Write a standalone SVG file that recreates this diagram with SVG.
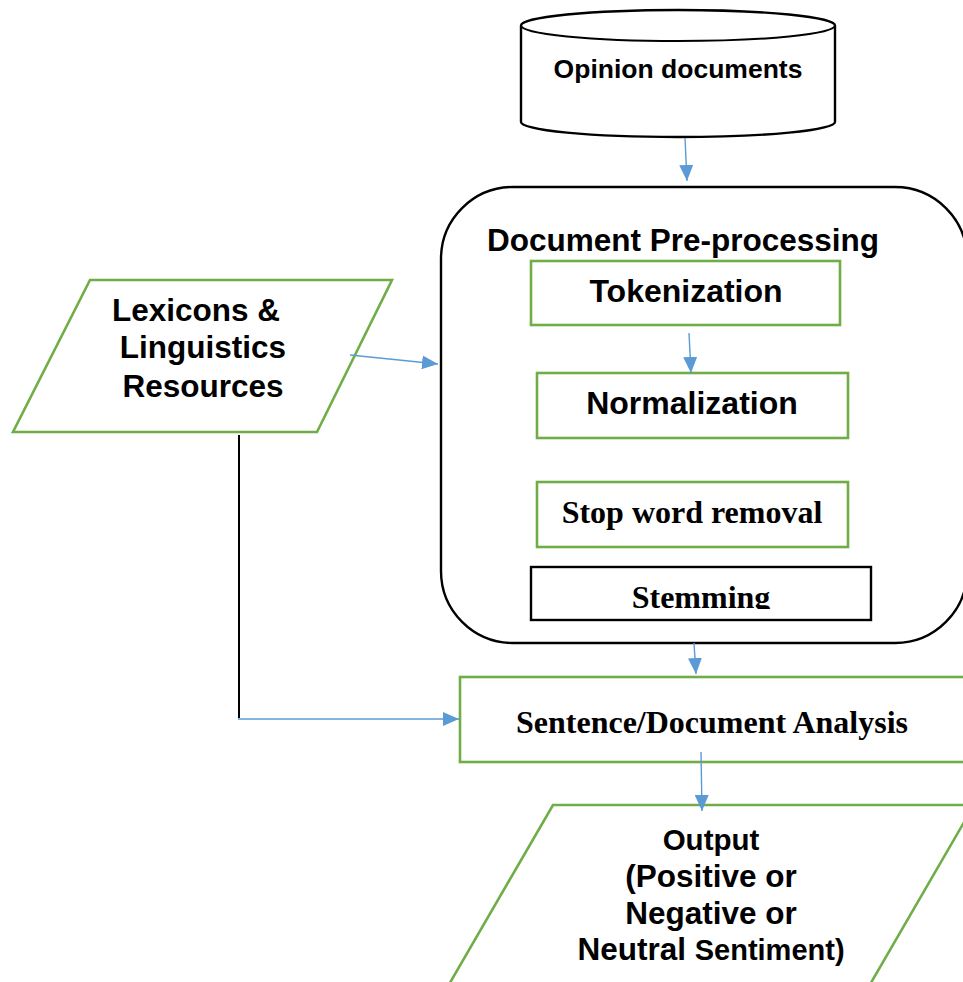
<svg xmlns="http://www.w3.org/2000/svg" width="963" height="982" viewBox="0 0 963 982">
<style>
.sans{font-family:"Liberation Sans",Arial,sans-serif;font-weight:bold;fill:#000}
.serif{font-family:"Liberation Serif","Times New Roman",serif;font-weight:bold;fill:#000}
.green{fill:#fff;stroke:#70AD47;stroke-width:2.6}
.black{fill:#fff;stroke:#000;stroke-width:2.4}
.conn{fill:none;stroke:#5B9BD5;stroke-width:1.4}
</style>
<defs>
<marker id="arr" viewBox="0 0 16 14" refX="16" refY="7" markerWidth="16" markerHeight="14" markerUnits="userSpaceOnUse" orient="auto">
<path d="M0,0 L16,7 L0,14 Z" fill="#5B9BD5"/>
</marker>
<clipPath id="stemclip"><rect x="531" y="567" width="340" height="42"/></clipPath>
</defs>
<rect width="963" height="982" fill="#fff"/>

<g id="opinion-documents">
<path class="black" stroke-width="2" d="M521,25.5 A157,15.5 0 0 1 835,25.5 L835,122 A157,15 0 0 1 521,122 Z"/>
<path fill="none" stroke="#000" stroke-width="2" d="M521,25.5 A157,15.5 0 0 0 835,25.5"/>
<text class="sans" x="678" y="78" font-size="26.5" text-anchor="middle">Opinion documents</text>
</g>

<g id="document-preprocessing">
<rect class="black" x="441" y="187" width="526" height="456" rx="72" ry="72" stroke-width="2.6"/>
<text class="sans" x="683" y="251" font-size="31.5" text-anchor="middle">Document Pre-processing</text>
</g>

<g id="tokenization">
<rect class="green" x="531" y="261" width="309" height="64"/>
<text class="sans" x="686" y="302" font-size="32" text-anchor="middle">Tokenization</text>
</g>

<g id="normalization">
<rect class="green" x="537" y="373" width="311" height="65"/>
<text class="sans" x="692" y="414" font-size="32" text-anchor="middle">Normalization</text>
</g>

<g id="stop-word-removal">
<rect class="green" x="537" y="482" width="311" height="65"/>
<text class="serif" x="692" y="523" font-size="32" text-anchor="middle">Stop word removal</text>
</g>

<g id="stemming">
<rect class="black" x="531" y="567" width="340" height="53" stroke-width="2"/>
<text class="serif" x="701" y="608" font-size="32" text-anchor="middle" clip-path="url(#stemclip)">Stemming</text>
</g>

<g id="lexicons">
<polygon class="green" points="90,280 392,280 317,432 13,432"/>
<text class="sans" x="196" y="321" font-size="31.5" text-anchor="middle">Lexicons &amp;</text>
<text class="sans" x="203" y="358" font-size="31.5" text-anchor="middle">Linguistics</text>
<text class="sans" x="203" y="397" font-size="31.5" text-anchor="middle">Resources</text>
</g>

<g id="sentence-analysis">
<rect class="green" x="460" y="677" width="507" height="85"/>
<text class="serif" x="712" y="733" font-size="32" text-anchor="middle">Sentence/Document Analysis</text>
</g>

<g id="output">
<polygon class="green" points="553,805 974,805 861,1000 440,1000"/>
<text class="sans" x="711" y="850" font-size="29.5" text-anchor="middle">Output</text>
<text class="sans" x="711" y="887" font-size="31.5" text-anchor="middle">(Positive or</text>
<text class="sans" x="711" y="924" font-size="31.5" text-anchor="middle">Negative or</text>
<text class="sans" x="711" y="960" font-size="31.5" text-anchor="middle">Neutral <tspan font-size="29">Sentiment)</tspan></text>
</g>

<g id="connectors">
<line class="conn" x1="685" y1="138" x2="687" y2="181" marker-end="url(#arr)"/>
<line class="conn" x1="350" y1="355" x2="438" y2="364" marker-end="url(#arr)"/>
<line class="conn" x1="689" y1="333" x2="691" y2="373" marker-end="url(#arr)"/>
<line class="conn" x1="694" y1="643" x2="696" y2="674" marker-end="url(#arr)"/>
<line fill="none" stroke="#000" stroke-width="2" x1="239" y1="435" x2="239" y2="718"/>
<line class="conn" x1="238" y1="719" x2="459" y2="719" marker-end="url(#arr)"/>
<line class="conn" x1="701" y1="752" x2="702" y2="811" marker-end="url(#arr)"/>
</g>
</svg>
